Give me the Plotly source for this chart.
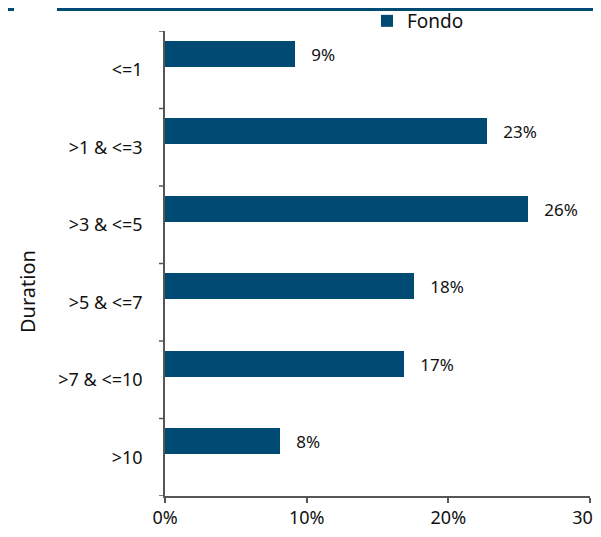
import plotly.graph_objects as go

categories = ["<=1", ">1 & <=3", ">3 & <=5", ">5 & <=7", ">7 & <=10", ">10"]
fondo = [9.2, 22.7, 25.6, 17.6, 16.9, 8.1]
labels = ["9%", "23%", "26%", "18%", "17%", "8%"]
xticks = [0, 10, 20, 30]
xticklabels = ["0%", "10%", "20%", "30%"]

BLUE = "#004b74"
AXIS = "#5a5555"
FONT = "Noto Sans"

# page body has an 8px margin; work in screen pixels and convert
OFF = 8
W, H = 601 - OFF, 537 - OFF
L, R, T, B = 165 - OFF, 11, 31 - OFF, 41
pw, ph = W - L - R, H - T - B

def px_x(p):
    return (p - OFF - L) / pw

def px_y(p):
    return 1 - (p - OFF - T) / ph

fig = go.Figure()
fig.add_trace(go.Bar(
    name="Fondo",
    y=list(range(len(categories))),
    x=fondo,
    orientation="h",
    marker=dict(color=BLUE, line=dict(width=0)),
    offset=-0.374,
    width=0.335,
    text=["\u00a0\u00a0\u00a0" + s for s in labels],
    textposition="outside",
    textfont=dict(family=FONT, size=17, color="#111111"),
    cliponaxis=False,
))

fig.update_layout(
    width=W, height=H,
    margin=dict(l=L, r=R, t=T, b=B, autoexpand=False),
    plot_bgcolor="white", paper_bgcolor="white",
    font=dict(family=FONT, size=18, color="#111111"),
    showlegend=True,
    legend=dict(x=px_x(367), y=px_y(2), xanchor="left", yanchor="top",
                orientation="h", font=dict(family=FONT, size=19, color="#111111"),
                bgcolor="rgba(0,0,0,0)", itemwidth=30),
    xaxis=dict(range=[0, 30], tickvals=xticks, ticktext=xticklabels,
               showgrid=False, zeroline=False, showline=True, linecolor=AXIS,
               linewidth=1.5, ticks="outside", ticklen=5, tickcolor=AXIS,
               tickwidth=1.5, tickfont=dict(size=18),
               ticklabeloverflow="allow"),
    yaxis=dict(range=[5.5, -0.5], tickvals=list(range(len(categories))),
               ticktext=categories, showgrid=False, zeroline=False,
               showline=True, linecolor=AXIS, linewidth=1.5,
               ticks="", tickfont=dict(size=18), ticklabelstandoff=17),
    bargap=0,
)

shapes = []
for k in range(len(categories) + 1):
    yb = k - 0.5
    shapes.append(dict(type="line", xref="paper", yref="y",
                       x0=px_x(159), x1=0, y0=yb, y1=yb,
                       line=dict(color=AXIS, width=1.5)))
shapes.append(dict(type="line", xref="paper", yref="paper",
                   x0=px_x(0), x1=px_x(14), y0=px_y(9), y1=px_y(9),
                   line=dict(color=BLUE, width=4)))
shapes.append(dict(type="line", xref="paper", yref="paper",
                   x0=px_x(57), x1=px_x(601), y0=px_y(9), y1=px_y(9),
                   line=dict(color=BLUE, width=4)))
fig.update_layout(shapes=shapes)

fig.add_annotation(text="Duration", xref="paper", yref="paper",
                   x=px_x(27), y=px_y(292), xanchor="center", yanchor="middle",
                   textangle=-90, showarrow=False,
                   font=dict(family=FONT, size=20, color="#111111"))

fig.write_html("out.html")
